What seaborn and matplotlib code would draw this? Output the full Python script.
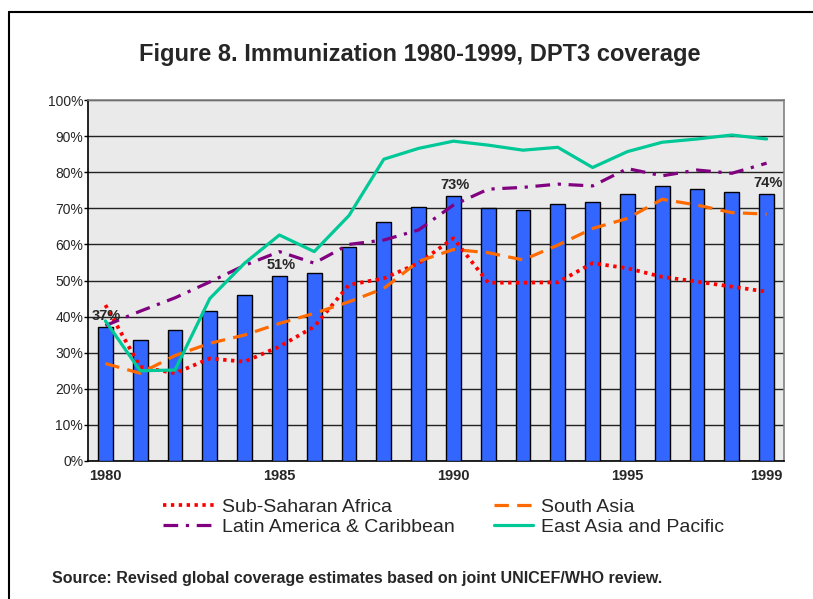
import numpy as np
import pandas as pd
import matplotlib
matplotlib.use("Agg")
import matplotlib.pyplot as plt
from matplotlib.lines import Line2D
import seaborn as sns

years = [str(y) for y in range(1980, 2000)]
global_dpt3 = [37, 33.5, 36.3, 41.6, 46.1, 51.2, 52, 59.2, 66.1, 70.4,
               73.4, 70.2, 69.4, 71.1, 71.7, 74, 76.2, 75.3, 74.4, 74]
sub_saharan = [43.2, 26.1, 24.3, 28.4, 27.5, 31.7, 37.2, 48.8, 50.6, 54.8,
               61.7, 49.4, 49.4, 49.5, 54.8, 53.4, 51, 49.7, 48.3, 46.9]
south_asia = [27, 24.3, 29.2, 32.6, 34.9, 38.1, 40.9, 44.1, 47.8, 55.3,
              58.6, 57.7, 55.7, 59.8, 64.4, 67.2, 72.5, 70.9, 68.8, 68.4]
latin_america = [37.5, 41.5, 45.2, 49.6, 54.2, 58, 54.8, 60, 61.2, 64,
                 70.9, 75.3, 75.8, 76.7, 76.2, 81, 79, 80.6, 79.7, 82.5]
east_asia = [38.8, 25, 25.2, 45, 54.8, 62.6, 58, 68, 83.6, 86.6,
             88.6, 87.5, 86.1, 86.9, 81.3, 85.7, 88.3, 89.2, 90.3, 89.2]
xtick_years = ["1980", "1985", "1990", "1995", "1999"]
label_years = ["1980", "1985", "1990", "1999"]
label_texts = ["37%", "51%", "73%", "74%"]

FONT = ["Liberation Sans", "DejaVu Sans"]
sns.set_theme(style="white")
plt.rcParams["font.family"] = FONT

W, H = 813, 599
fig = plt.figure(figsize=(W / 100, H / 100), dpi=100)
ax = fig.add_axes([88 / W, 1 - 461 / H, (784 - 88) / W, (461 - 100) / H])
ax.set_facecolor("#EAEAEA")

df = pd.DataFrame({"year": years, "value": global_dpt3})
sns.barplot(data=df, x="year", y="value", color="#3366FF", width=0.43,
            edgecolor="black", linewidth=1.0, saturation=1, ax=ax, zorder=3)

pos = np.arange(len(years))
series = [
    ("Sub-Saharan Africa", sub_saharan, "#FF0000", (0, (0.9, 1.2)), 2.7),
    ("South Asia", south_asia, "#FF6A00", (0, (4.5, 2.6)), 2.3),
    ("Latin America & Caribbean", latin_america, "#800080", (0, (4.6, 2.4, 1.0, 2.4)), 2.3),
    ("East Asia and Pacific", east_asia, "#00C896", "-", 2.3),
]
for name, vals, col, ls, lw in series:
    sns.lineplot(x=pos, y=vals, color=col, linestyle=ls, linewidth=lw, ax=ax,
                 zorder=4, sort=False)

for yr, txt in zip(label_years, label_texts):
    i = years.index(yr)
    ax.annotate(txt, (i, global_dpt3[i]), xytext=(1, 3), textcoords="offset points",
                ha="center", va="bottom", fontsize=10.5, fontweight="bold", zorder=6)

ax.set_xlim(-0.5, len(years) - 0.5)
ax.set_ylim(0, 100)
ax.set_yticks(np.arange(0, 101, 10))
ax.set_yticklabels([f"{v}%" for v in range(0, 101, 10)], fontsize=10)
ax.yaxis.grid(True, color="#222222", linewidth=1.0, zorder=1)
ax.set_axisbelow(True)
ax.set_xticks([years.index(y) for y in xtick_years])
ax.set_xticklabels(xtick_years, fontsize=10.5, fontweight="bold")
ax.set_xticks(np.arange(-0.5, len(years), 1), minor=True)
ax.tick_params(axis="x", which="major", length=0, pad=6)
ax.tick_params(axis="x", which="minor", length=4, color="black", width=1, direction="out")
ax.tick_params(axis="y", which="major", length=3, color="black", width=1, direction="out", left=True, pad=0.5)
ax.set_xlabel("")
ax.set_ylabel("")
for s in ["top", "right"]:
    ax.spines[s].set_color("#808080")
    ax.spines[s].set_linewidth(1.2)
for s in ["left", "bottom"]:
    ax.spines[s].set_color("black")
    ax.spines[s].set_linewidth(1.2)

fig.text(420 / W, 1 - 55 / H, "Figure 8. Immunization 1980-1999, DPT3 coverage",
         ha="center", va="center", fontsize=17, fontweight="bold")

def handle(col, ls, lw):
    return Line2D([], [], color=col, linestyle=ls, linewidth=lw)

h = [handle(c, l, w) for _, _, c, l, w in series]
leg1 = fig.legend([h[0], h[2]], [series[0][0], series[2][0]], loc="center left",
                  bbox_to_anchor=(163 / W, 1 - 517 / H), frameon=False, fontsize=14,
                  handlelength=2.75, handletextpad=0.3, labelspacing=0.12,
                  borderaxespad=0, borderpad=0)
leg2 = fig.legend([h[1], h[3]], [series[1][0], series[3][0]], loc="center left",
                  bbox_to_anchor=(494 / W, 1 - 517 / H), frameon=False, fontsize=14,
                  handlelength=2.0, handletextpad=0.4, labelspacing=0.12,
                  borderaxespad=0, borderpad=0)

fig.text(52 / W, 1 - 578 / H,
         "Source: Revised global coverage estimates based on joint UNICEF/WHO review.",
         ha="left", va="center", fontsize=11.5, fontweight="bold")

fig.add_artist(Line2D([9 / W, 9 / W], [0, 1 - 12 / H], color="black", linewidth=1.5,
                      transform=fig.transFigure))
fig.add_artist(Line2D([9 / W, 1], [1 - 12 / H, 1 - 12 / H], color="black", linewidth=1.5,
                      transform=fig.transFigure))

fig.savefig("out.png", dpi=100, facecolor="white")
